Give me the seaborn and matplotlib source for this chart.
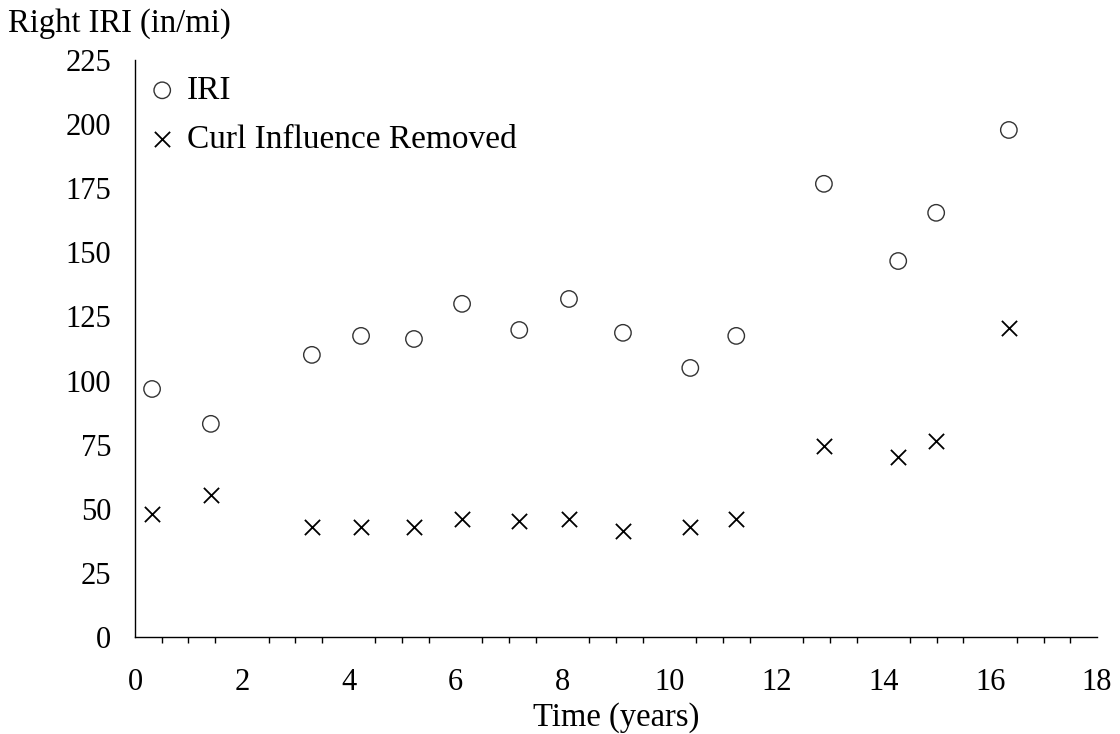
import matplotlib
matplotlib.use("Agg")
import matplotlib.pyplot as plt
from matplotlib.ticker import MultipleLocator
import seaborn as sns
import pandas as pd

# Survey times (years) and right-wheel-path roughness (in/mi)
time_years = [0.32, 1.42, 3.31, 4.23, 5.22, 6.12, 7.19, 8.12, 9.13, 10.39, 11.25, 12.89, 14.28, 14.99, 16.35]
iri = [96.7, 83.1, 110.0, 117.4, 116.2, 129.9, 119.7, 131.8, 118.6, 104.9, 117.4, 176.7, 146.6, 165.4, 197.7]
curl_removed = [48.0, 55.4, 42.9, 42.9, 42.9, 46.0, 45.2, 46.0, 41.3, 42.9, 46.0, 74.5, 70.2, 76.4, 120.5]

series_names = ["IRI", "Curl Influence Removed"]

df_iri = pd.DataFrame({"time": time_years, "value": iri})
df_curl = pd.DataFrame({"time": time_years, "value": curl_removed})

TICK_FS = 22
LABEL_FS = 23.5
LEGEND_FS = 24

sns.set_style("white")
plt.rcParams["font.family"] = ["Liberation Serif", "DejaVu Serif"]
plt.rcParams["font.size"] = TICK_FS
plt.rcParams["text.color"] = "black"
plt.rcParams["axes.labelcolor"] = "black"

fig = plt.figure(figsize=(11.2, 7.34), dpi=100)
ax = fig.add_axes([0.1205, 0.1322, 0.859, 0.7861])

sns.scatterplot(data=df_iri, x="time", y="value", ax=ax, marker="o", s=140,
                facecolor="none", edgecolor="#333333", linewidth=1.0,
                label=series_names[0])
sns.scatterplot(data=df_curl, x="time", y="value", ax=ax, marker="x", s=120,
                color="black", linewidth=1.3, label=series_names[1])

ax.set_xlim(0, 18)
ax.set_ylim(0, 225)
ax.xaxis.set_major_locator(MultipleLocator(2))
ax.xaxis.set_minor_locator(MultipleLocator(0.5))
ax.yaxis.set_major_locator(MultipleLocator(25))

for side in ("top", "right"):
    ax.spines[side].set_visible(False)
for side in ("left", "bottom"):
    ax.spines[side].set_color("black")
    ax.spines[side].set_linewidth(1.0)

ax.tick_params(axis="both", which="major", direction="out", length=7, width=1.0,
               color="black", labelsize=TICK_FS, labelcolor="black")
ax.tick_params(axis="x", which="minor", direction="out", length=4, width=1.0,
               color="black", bottom=True)
ax.tick_params(axis="x", which="major", pad=15)
ax.tick_params(axis="y", which="major", pad=10)

ax.set_xlabel("Time (years)", fontsize=LABEL_FS, labelpad=4, color="black")
ax.set_ylabel("")
fig.text(0.007, 0.968, "Right IRI (in/mi)", fontsize=LABEL_FS, ha="left", va="center",
         color="black")

leg = ax.legend(loc="upper left", bbox_to_anchor=(0.011, 0.973), frameon=False,
                fontsize=LEGEND_FS, handletextpad=0.23, borderaxespad=0.0,
                borderpad=0.0, labelspacing=0.56, handlelength=1.0)
for t in leg.get_texts():
    t.set_color("black")

fig.savefig("out.png", dpi=100)
